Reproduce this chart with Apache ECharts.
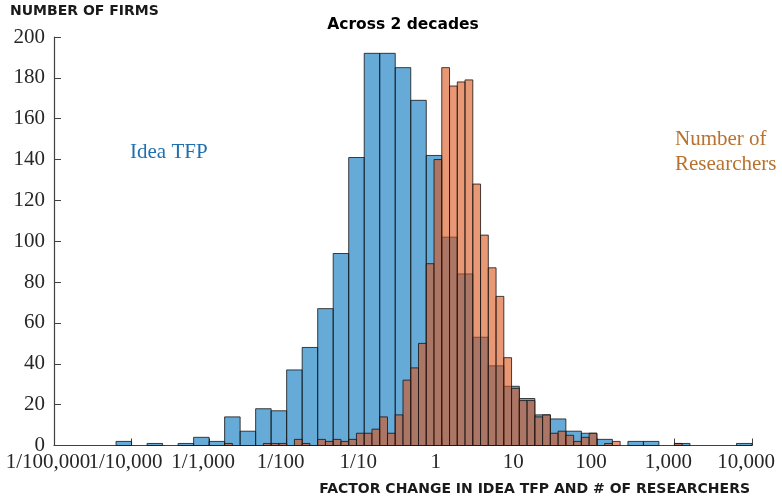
<!DOCTYPE html>
<html>
<head>
<meta charset="utf-8">
<script src="https://cdn.jsdelivr.net/npm/echarts@6/dist/echarts.min.js"></script>
<style>
  html, body { margin: 0; padding: 0; background: #fff; }
  #chart { width: 782px; height: 502px; }
</style>
</head>
<body>
<div id="chart"></div>
<script>
// log10 range of the x axis, one tick per decade
const xMin = -5;
const xMax = 4;
const tickLabels = ['1/100,000', '1/10,000', '1/1,000', '1/100', '1/10', '1', '10', '100', '1,000', '10,000'];

// Idea TFP: bins of 0.2 decade starting at 1/100,000
const tfpBinWidth = 0.2;
const tfpCounts = [
  0, 0, 0, 0, 2, 0, 1, 0, 1, 4,
  2, 14, 7, 18, 17, 37, 48, 67, 94, 141,
  192, 192, 185, 169, 142, 102, 84, 53, 39, 29,
  23, 15, 13, 7, 6, 3, 0, 2, 2, 0,
  1, 0, 0, 0, 1
];

// Number of researchers: bins of 0.1 decade starting at 1/100,000
const resBinWidth = 0.1;
const resCounts = [
  0, 0, 0, 0, 0, 0, 0, 0, 0, 0,
  0, 0, 0, 0, 0, 0, 0, 0, 0, 0,
  0, 0, 1, 0, 0, 0, 0, 1, 1, 1,
  0, 3, 1, 0, 3, 2, 3, 2, 3, 6,
  6, 8, 14, 6, 15, 32, 38, 50, 89, 140,
  185, 176, 178, 179, 128, 103, 87, 73, 43, 28,
  22, 22, 14, 15, 6, 7, 5, 2, 4, 6,
  0, 1, 2, 0, 0, 0, 0, 0, 0, 0,
  1, 0, 0, 0, 0, 0, 0, 0, 0, 0
];

function toBins(counts, width) {
  const out = [];
  counts.forEach((c, i) => {
    if (c > 0) out.push([xMin + i * width, xMin + (i + 1) * width, c]);
  });
  return out;
}

function histItem(fill) {
  return function (params, api) {
    const p0 = api.coord([api.value(0), 0]);
    const p1 = api.coord([api.value(1), api.value(2)]);
    return {
      type: 'rect',
      shape: { x: p0[0], y: p1[1], width: p1[0] - p0[0], height: p0[1] - p1[1] },
      style: { fill: fill, stroke: 'rgba(20,20,20,0.8)', lineWidth: 1 }
    };
  };
}

const chart = echarts.init(document.getElementById('chart'), null, { renderer: 'canvas' });

const labelFont = '"Liberation Serif", "DejaVu Serif", serif';
const headFont = '"DejaVu Sans", sans-serif';

// the decade labels touch each other, so even and odd ones sit on two
// stacked copies of the x axis to keep ECharts from dropping any of them
function decadeAxis(parity, visibleLine) {
  return {
    type: 'value',
    min: xMin,
    max: xMax,
    interval: 1,
    position: 'bottom',
    splitLine: { show: false },
    axisLine: { show: visibleLine, onZero: false, lineStyle: { color: '#404040', width: 1.2 } },
    axisTick: { show: visibleLine, inside: true, length: 7, lineStyle: { color: '#404040' } },
    axisLabel: {
      margin: 6,
      showMinLabel: true,
      showMaxLabel: true,
      color: '#262626',
      fontFamily: labelFont,
      fontSize: 21,
      formatter: v => {
        const k = Math.round(v - xMin);
        return k % 2 === parity ? '{t|' + tickLabels[k] + '}' : '';
      },
      rich: { t: { fontFamily: labelFont, fontSize: 21, color: '#262626', padding: [0, 12, 0, 0] } }
    }
  };
}

chart.setOption({
  animation: false,
  grid: { left: 54, right: 30, top: 37, bottom: 56.5, containLabel: false },
  xAxis: [decadeAxis(0, true), decadeAxis(1, false)],
  yAxis: {
    type: 'value',
    min: 0,
    max: 200,
    interval: 20,
    splitLine: { show: false },
    axisLine: { show: true, onZero: false, lineStyle: { color: '#404040', width: 1.2 } },
    axisTick: { show: true, inside: true, length: 7, lineStyle: { color: '#404040' } },
    axisLabel: { margin: 9, color: '#262626', fontFamily: labelFont, fontSize: 21 }
  },
  series: [
    {
      name: 'Idea TFP',
      type: 'custom',
      xAxisIndex: 0,
      renderItem: histItem('rgba(0,114,189,0.6)'),
      encode: { x: [0, 1], y: 2 },
      data: toBins(tfpCounts, tfpBinWidth)
    },
    {
      name: 'Number of Researchers',
      type: 'custom',
      xAxisIndex: 0,
      renderItem: histItem('rgba(217,83,25,0.6)'),
      encode: { x: [0, 1], y: 2 },
      data: toBins(resCounts, resBinWidth)
    }
  ],
  graphic: [
    {
      type: 'text', left: 10, top: 4,
      style: { text: 'NUMBER OF FIRMS', font: 'bold 14px ' + headFont, fill: '#1a1a1a' }
    },
    {
      type: 'text', x: 403, y: 25,
      style: { text: 'Across 2 decades', font: 'bold 15.5px ' + headFont, fill: '#000', align: 'center', verticalAlign: 'middle' }
    },
    {
      type: 'text', x: 750, y: 489,
      style: { text: 'FACTOR CHANGE IN IDEA TFP AND # OF RESEARCHERS', font: 'bold 14px ' + headFont, fill: '#1a1a1a', align: 'right', verticalAlign: 'middle' }
    },
    {
      type: 'text', x: 130, y: 152,
      style: { text: 'Idea TFP', font: '21px ' + labelFont, fill: '#1f6fae', verticalAlign: 'middle' }
    },
    {
      type: 'text', x: 675, y: 152,
      style: { text: 'Number of\nResearchers', font: '21px ' + labelFont, fill: '#b8722e', verticalAlign: 'middle', lineHeight: 25 }
    }
  ]
});
</script>
</body>
</html>
